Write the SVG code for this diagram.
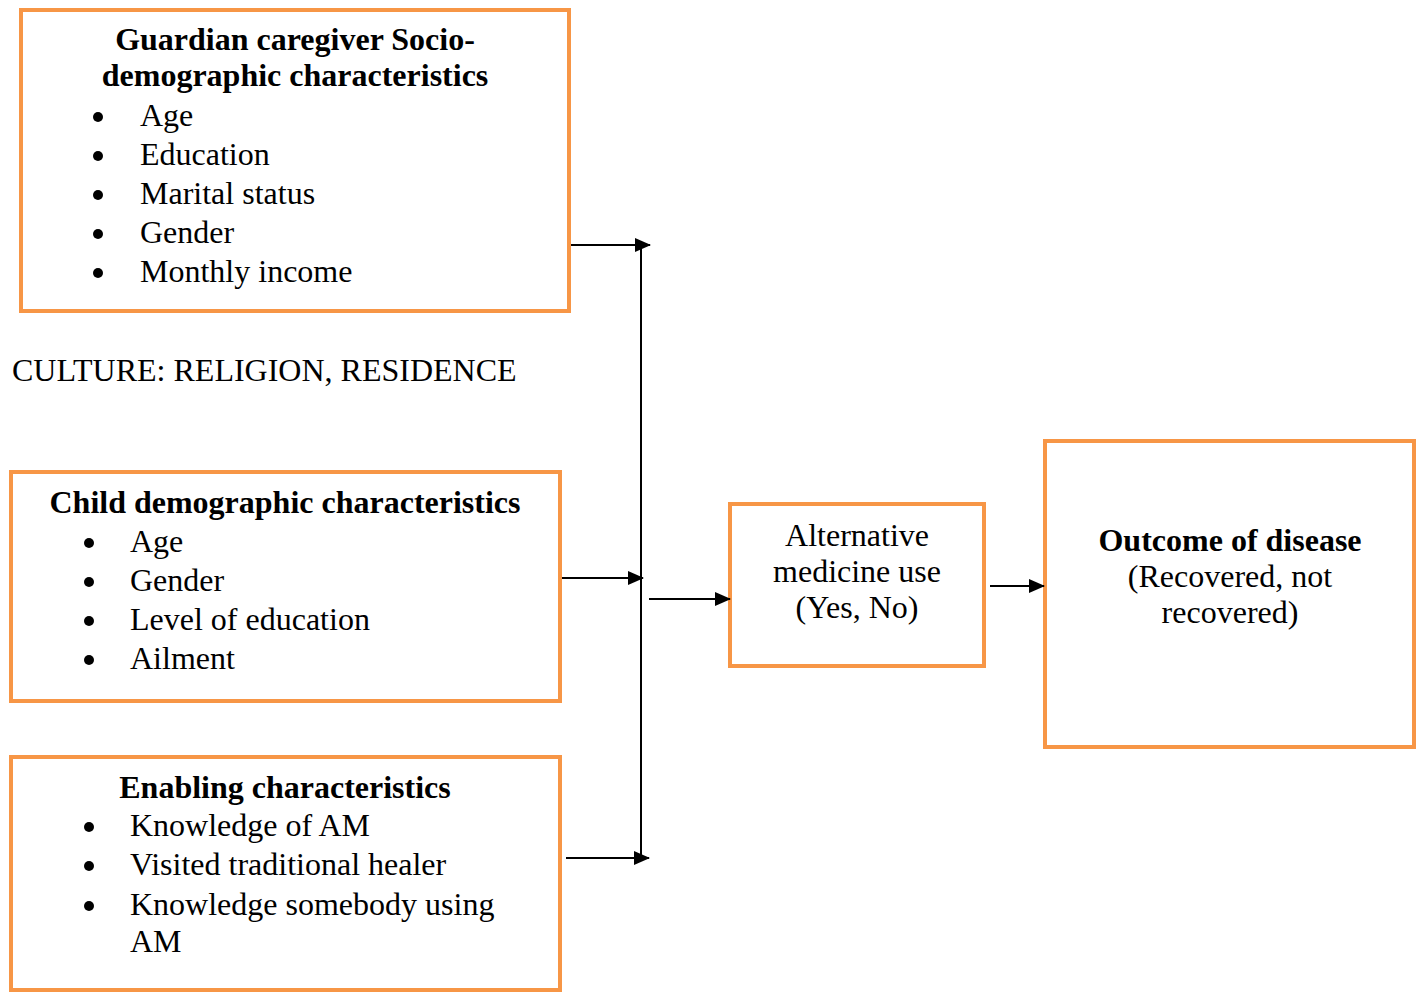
<svg xmlns="http://www.w3.org/2000/svg" width="1416" height="992" viewBox="0 0 1416 992">
<style>
.box{fill:#fff;stroke:#F79646;stroke-width:4}
text{font-family:"Liberation Serif","Times New Roman",serif;font-size:32px;fill:#000}
.b{font-weight:bold}
.c{text-anchor:middle}
.ln{stroke:#000;stroke-width:2;fill:none}
</style>
<defs>
<marker id="ah" markerWidth="16" markerHeight="14" refX="15" refY="7" orient="auto" markerUnits="userSpaceOnUse">
<path d="M0,0 L16,7 L0,14 Z" fill="#000"/>
</marker>
</defs>
<rect width="1416" height="992" fill="#fff"/>
<g id="guardian">
<rect class="box" x="21" y="10" width="548" height="301"/>
<text class="b c" x="295" y="50">Guardian caregiver Socio-</text>
<text class="b c" x="295" y="86">demographic characteristics</text>
<circle cx="98" cy="117" r="5"/><text x="140" y="126">Age</text>
<circle cx="98" cy="156" r="5"/><text x="140" y="165">Education</text>
<circle cx="98" cy="195" r="5"/><text x="140" y="204">Marital status</text>
<circle cx="98" cy="234" r="5"/><text x="140" y="243">Gender</text>
<circle cx="98" cy="273" r="5"/><text x="140" y="282">Monthly income</text>
</g>
<g id="culture">
<text x="12" y="381">CULTURE: RELIGION, RESIDENCE</text>
</g>
<g id="child">
<rect class="box" x="11" y="472" width="549" height="229"/>
<text class="b c" x="285" y="513">Child demographic characteristics</text>
<circle cx="89" cy="543" r="5"/><text x="130" y="552">Age</text>
<circle cx="89" cy="582" r="5"/><text x="130" y="591">Gender</text>
<circle cx="89" cy="621" r="5"/><text x="130" y="630">Level of education</text>
<circle cx="89" cy="660" r="5"/><text x="130" y="669">Ailment</text>
</g>
<g id="enabling">
<rect class="box" x="11" y="757" width="549" height="233"/>
<text class="b c" x="285" y="798">Enabling characteristics</text>
<circle cx="89" cy="827" r="5"/><text x="130" y="836">Knowledge of AM</text>
<circle cx="89" cy="866" r="5"/><text x="130" y="875">Visited traditional healer</text>
<circle cx="89" cy="906" r="5"/><text x="130" y="915">Knowledge somebody using</text>
<text x="130" y="952">AM</text>
</g>
<g id="altmed">
<rect class="box" x="730" y="504" width="254" height="162"/>
<text class="c" x="857" y="546">Alternative</text>
<text class="c" x="857" y="582">medicine use</text>
<text class="c" x="857" y="618">(Yes, No)</text>
</g>
<g id="outcome">
<rect class="box" x="1045" y="441" width="369" height="306"/>
<text class="b c" x="1230" y="551">Outcome of disease</text>
<text class="c" x="1230" y="587">(Recovered, not</text>
<text class="c" x="1230" y="623">recovered)</text>
</g>
<g id="connectors">
<line class="ln" x1="641" y1="245" x2="641" y2="858"/>
<line class="ln" x1="571" y1="245" x2="650" y2="245" marker-end="url(#ah)"/>
<line class="ln" x1="562" y1="578" x2="643" y2="578" marker-end="url(#ah)"/>
<line class="ln" x1="566" y1="858" x2="649" y2="858" marker-end="url(#ah)"/>
<line class="ln" x1="649" y1="599" x2="730" y2="599" marker-end="url(#ah)"/>
<line class="ln" x1="990" y1="586" x2="1044" y2="586" marker-end="url(#ah)"/>
</g>
</svg>
